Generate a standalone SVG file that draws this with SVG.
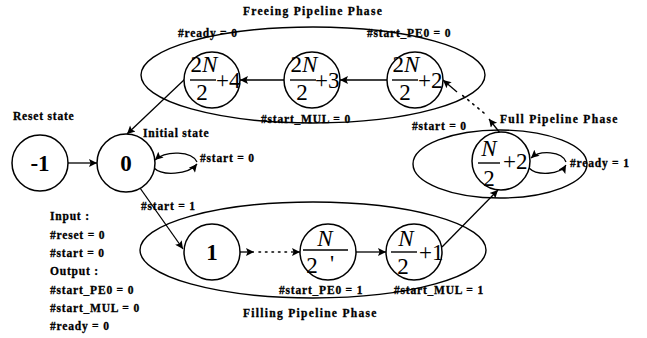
<svg xmlns="http://www.w3.org/2000/svg" width="647" height="338" viewBox="0 0 647 338">
<defs>
<marker id="ah" viewBox="0 0 10 10" refX="10" refY="5" markerWidth="10" markerHeight="8" orient="auto" markerUnits="userSpaceOnUse"><path d="M0,0 L10,5 L0,10 L2,5 z" fill="#000"/></marker>
<style>
.nd{fill:#fff;stroke:#000;stroke-width:1.5}
.ph{fill:none;stroke:#000;stroke-width:1.4}
.ln{fill:none;stroke:#000;stroke-width:1.3}
.dt{fill:none;stroke:#000;stroke-width:1.6;stroke-dasharray:1.5 5;stroke-linecap:round}
.lb{font-family:"Liberation Serif",serif;font-weight:bold;font-size:11.5px;letter-spacing:0.8px;fill:#000;stroke:#000;stroke-width:0.3}
.tt{letter-spacing:1.3px}
.big{font-family:"Liberation Serif",serif;font-weight:bold;font-size:23px;fill:#000;text-anchor:middle}
.fr{font-family:"Liberation Serif",serif;font-size:23px;fill:#000}
.it{font-style:italic}
.bar{stroke:#000;stroke-width:1.4}
</style>
</defs>
<rect width="647" height="338" fill="#fff"/>

<g id="phases">
<ellipse class="ph" cx="313" cy="75" rx="172" ry="48"/>
<ellipse class="ph" cx="500" cy="164" rx="87" ry="34"/>
<ellipse class="ph" cx="313" cy="250" rx="173" ry="48"/>
</g>

<g id="connectors">
<line class="ln" x1="68" y1="163" x2="97" y2="163" marker-end="url(#ah)"/>
<line class="ln" x1="140" y1="188" x2="183" y2="249" marker-end="url(#ah)"/>
<line class="ln" x1="240" y1="252" x2="254" y2="252" marker-end="url(#ah)"/>
<line class="dt" x1="259" y1="252" x2="290" y2="252"/>
<line class="ln" x1="291" y1="252" x2="300" y2="252" marker-end="url(#ah)"/>
<line class="ln" x1="356" y1="252" x2="386" y2="252" marker-end="url(#ah)"/>
<line class="ln" x1="442" y1="247" x2="498" y2="190" marker-end="url(#ah)"/>
<line class="ln" x1="500" y1="133" x2="489" y2="119" marker-end="url(#ah)"/>
<line class="dt" x1="484" y1="113" x2="462" y2="95"/>
<line class="ln" x1="457" y1="92" x2="443" y2="80" marker-end="url(#ah)"/>
<line class="ln" x1="387" y1="80" x2="340" y2="80" marker-end="url(#ah)"/>
<line class="ln" x1="284" y1="80" x2="240" y2="80" marker-end="url(#ah)"/>
<line class="ln" x1="185" y1="79" x2="127" y2="134" marker-end="url(#ah)"/>
<path class="ln" d="M154,168 C162,176 188,175 197,164" marker-end="url(#ah)"/>
<path class="ln" d="M197,162 C192,151 166,150 155,160" marker-end="url(#ah)"/>
<path class="ln" d="M529,168 C537,176 560,175 566,165" marker-end="url(#ah)"/>
<path class="ln" d="M566,162 C562,151 540,150 531,158" marker-end="url(#ah)"/>
</g>

<g id="n_reset"><circle class="nd" cx="40" cy="163" r="28"/><text class="big" x="40" y="171">-1</text></g>
<g id="n_0"><circle class="nd" cx="126" cy="163" r="29"/><text class="big" x="126" y="171">0</text></g>
<g id="n_1"><circle class="nd" cx="212" cy="252" r="28"/><text class="big" x="212" y="260">1</text></g>

<g id="n_N2"><circle class="nd" cx="328" cy="252" r="28"/>
<text class="fr it" x="325" y="246" text-anchor="middle">N</text>
<line class="bar" x1="303" y1="250" x2="348" y2="250"/>
<text class="fr" x="312" y="273" text-anchor="middle">2</text><text class="fr" x="332" y="271" font-size="14" text-anchor="middle">'</text></g>

<g id="n_N21"><circle class="nd" cx="414" cy="252" r="28"/>
<text class="fr it" x="406" y="246" text-anchor="middle">N</text>
<line class="bar" x1="391" y1="252" x2="417" y2="252"/>
<text class="fr" x="403" y="274" text-anchor="middle">2</text>
<text class="fr" x="419" y="260">+1</text></g>

<g id="n_N22"><circle class="nd" cx="501" cy="161" r="29"/>
<text class="fr it" x="489" y="156" text-anchor="middle">N</text>
<line class="bar" x1="478" y1="163" x2="500" y2="163"/>
<text class="fr" x="489" y="186" text-anchor="middle">2</text>
<text class="fr" x="503" y="169">+2</text></g>

<g id="n_2N2_2"><circle class="nd" cx="415" cy="80" r="28"/>
<text class="fr" x="406" y="72" text-anchor="middle">2<tspan class="it">N</tspan></text>
<line class="bar" x1="392" y1="80" x2="418" y2="80"/>
<text class="fr" x="405" y="100" text-anchor="middle">2</text>
<text class="fr" x="418" y="88">+2</text></g>

<g id="n_2N2_3"><circle class="nd" cx="312" cy="80" r="28"/>
<text class="fr" x="304" y="72" text-anchor="middle">2<tspan class="it">N</tspan></text>
<line class="bar" x1="290" y1="80" x2="316" y2="80"/>
<text class="fr" x="302" y="100" text-anchor="middle">2</text>
<text class="fr" x="315" y="88">+3</text></g>

<g id="n_2N2_4"><circle class="nd" cx="212" cy="80" r="28"/>
<text class="fr" x="204" y="72" text-anchor="middle">2<tspan class="it">N</tspan></text>
<line class="bar" x1="190" y1="80" x2="216" y2="80"/>
<text class="fr" x="202" y="100" text-anchor="middle">2</text>
<text class="fr" x="216" y="88">+4</text></g>

<g id="labels">
<text class="lb tt" x="313" y="15" text-anchor="middle">Freeing Pipeline Phase</text>
<text class="lb" x="178" y="37">#ready = 0</text>
<text class="lb" x="367" y="37">#start_PE0 = 0</text>
<text class="lb" x="261" y="123">#start_MUL = 0</text>
<text class="lb" x="412" y="130">#start = 0</text>
<text class="lb tt" x="500" y="123">Full Pipeline Phase</text>
<text class="lb" x="570" y="167">#ready = 1</text>
<text class="lb" x="13" y="120">Reset state</text>
<text class="lb" x="143" y="137">Initial state</text>
<text class="lb" x="200" y="162">#start = 0</text>
<text class="lb" x="141" y="210">#start = 1</text>
<text class="lb" x="279" y="294">#start_PE0 = 1</text>
<text class="lb" x="394" y="294">#start_MUL = 1</text>
<text class="lb tt" x="243" y="317">Filling Pipeline Phase</text>
<text class="lb" x="50" y="220">Input :</text>
<text class="lb" x="50" y="239">#reset = 0</text>
<text class="lb" x="50" y="257">#start = 0</text>
<text class="lb" x="50" y="275">Output :</text>
<text class="lb" x="50" y="294">#start_PE0 = 0</text>
<text class="lb" x="50" y="312">#start_MUL = 0</text>
<text class="lb" x="50" y="330">#ready = 0</text>
</g>
</svg>
